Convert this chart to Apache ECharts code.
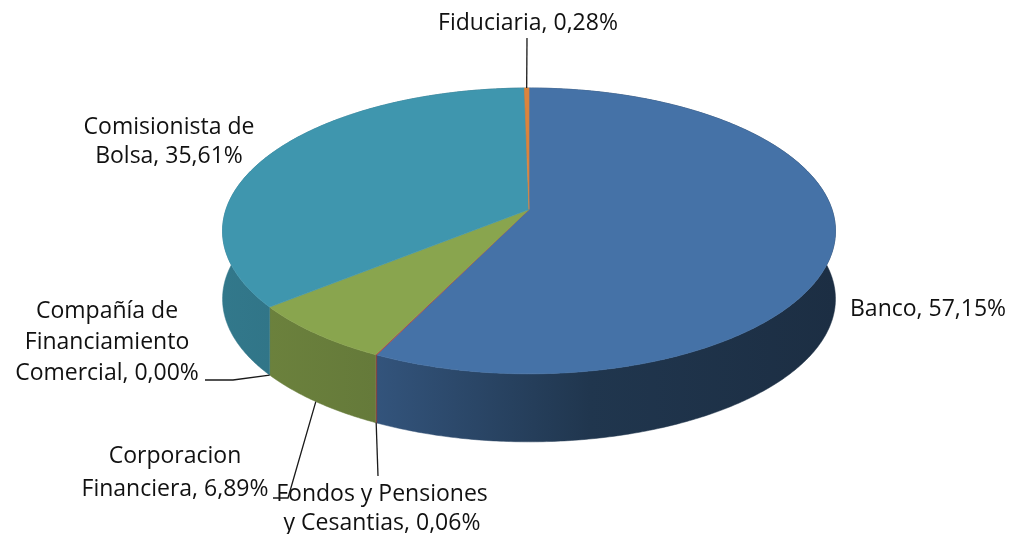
<!DOCTYPE html>
<html>
<head>
<meta charset="utf-8">
<script src="https://cdn.jsdelivr.net/npm/echarts@6/dist/echarts.min.js"></script>
<style>
  html, body { margin: 0; padding: 0; background: #fff; }
  #main { width: 1011px; height: 534px; }
</style>
</head>
<body>
<div id="main"></div>
<script>
// datos: participación por tipo de entidad (en el orden del pastel, sentido horario desde arriba)
const categories = ['Banco', 'Fondos y Pensiones\ny Cesantias', 'Corporacion\nFinanciera',
  'Compañía de\nFinanciamiento\nComercial', 'Comisionista de\nBolsa', 'Fiduciaria'];
const shares = [57.15, 0.06, 6.89, 0.00, 35.61, 0.28];
const colors = ['#4572A7', '#AA4643', '#89A54E', '#71588F', '#3F96AE', '#DB843D'];

// posición de las etiquetas (centro del bloque de texto), alineación e interlineado
const labelPos = [[850, 309, 'left', 30], [382, 509, 'center', 29], [175, 473, 'center', 33],
  [107, 342, 'center', 31], [169, 142, 'center', 29], [528, 23, 'center', 30]];
// codo de la línea guía (null = sin línea)
const labelElbow = [null, [378, 476], [273, 498, 288, 498], [205, 380, 233, 380], null, [527, 38]];

// geometría del pastel en perspectiva
const cx = 529, cy = 209.5, A = 303, B = 139.7, persp = 0.15, depth = 68;

const total = shares.reduce((a, b) => a + b, 0);
const ranges = [];
let acc = 0;
shares.forEach(v => {
  const a0 = acc / total * 2 * Math.PI;
  acc += v;
  ranges.push([a0, acc / total * 2 * Math.PI]);
});

function rim(t, dy) {
  const s = 1 / (1 + persp * Math.cos(t));
  return [cx + A * Math.sin(t) * s, cy - B * Math.cos(t) * s + (dy || 0)];
}
function arcPts(a0, a1, dy) {
  const n = Math.max(2, Math.ceil((a1 - a0) / 0.01));
  const pts = [];
  for (let i = 0; i <= n; i++) pts.push(rim(a0 + (a1 - a0) * i / n, dy));
  return pts;
}
function shade(hex, k) {
  const n = parseInt(hex.slice(1), 16);
  const r = Math.round(((n >> 16) & 255) * k), g = Math.round(((n >> 8) & 255) * k), b = Math.round((n & 255) * k);
  return 'rgb(' + r + ',' + g + ',' + b + ')';
}
function labelText(i) {
  return categories[i] + ', ' + shares[i].toFixed(2).replace('.', ',') + '%';
}

const chart = echarts.init(document.getElementById('main'));
const seriesData = shares.map((v, i) => [i, v]);

chart.setOption({
  animation: false,
  series: [
    { // paredes laterales
      type: 'custom', coordinateSystem: 'none', z: 1, data: seriesData,
      renderItem(params) {
        const i = params.dataIndex, r = ranges[i];
        if (r[1] - r[0] <= 0) return;
        const top = arcPts(r[0], r[1], 0);
        const bot = arcPts(r[0], r[1], depth).reverse();
        const c = colors[i];
        const fill = new echarts.graphic.LinearGradient(222, 0, 836, 0, [
          { offset: 0, color: shade(c, 0.8) },
          { offset: 0.25, color: shade(c, 0.74) },
          { offset: 0.6, color: shade(c, 0.47) },
          { offset: 1, color: shade(c, 0.4) }
        ], true);
        return { type: 'polygon', shape: { points: top.concat(bot) },
          style: { fill: fill, stroke: fill, lineWidth: 0.5 } };
      }
    },
    { // cara superior
      type: 'custom', coordinateSystem: 'none', z: 2, data: seriesData,
      renderItem(params) {
        const i = params.dataIndex, r = ranges[i];
        if (r[1] - r[0] <= 0) return;
        const pts = [[cx, cy]].concat(arcPts(r[0], r[1], 0));
        return { type: 'polygon', shape: { points: pts },
          style: { fill: colors[i], stroke: colors[i], lineWidth: 0.6 } };
      }
    },
    { // etiquetas y líneas guía
      type: 'custom', coordinateSystem: 'none', z: 3, data: seriesData,
      renderItem(params) {
        const i = params.dataIndex, r = ranges[i];
        const mid = (r[0] + r[1]) / 2;
        const front = Math.cos(mid) < -persp;
        const anchor = rim(mid, front ? depth : 0);
        const children = [];
        const el = labelElbow[i];
        if (el) {
          const pts = [];
          for (let k = 0; k < el.length; k += 2) pts.push([el[k], el[k + 1]]);
          pts.push(anchor);
          children.push({ type: 'polyline', shape: { points: pts },
            style: { stroke: '#1a1a1a', lineWidth: 1.3, fill: null } });
        }
        const p = labelPos[i];
        children.push({ type: 'text', x: p[0], y: p[1],
          style: { text: labelText(i), fill: '#111', font: '23px "Open Sans"', lineHeight: p[3],
            align: p[2], verticalAlign: 'middle' } });
        return { type: 'group', children: children };
      }
    }
  ]
});
</script>
</body>
</html>
